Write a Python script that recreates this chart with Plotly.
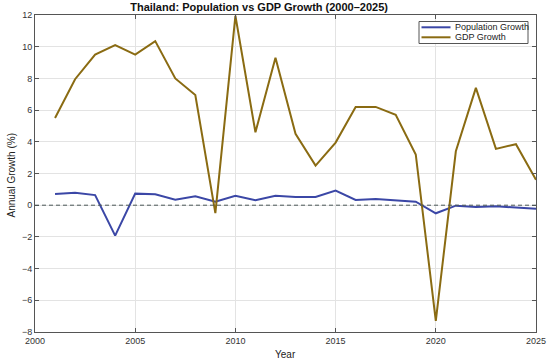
import plotly.graph_objects as go

years = list(range(2001, 2026))
population_growth = [0.71, 0.79, 0.64, -1.92, 0.73, 0.69, 0.35, 0.56, 0.22, 0.60,
                     0.31, 0.60, 0.52, 0.52, 0.92, 0.33, 0.39, 0.32, 0.22, -0.51,
                     -0.03, -0.11, -0.07, -0.15, -0.22]
gdp_growth = [5.5, 7.95, 9.5, 10.1, 9.5, 10.35, 8.0, 6.95, -0.5, 11.95,
              4.6, 9.3, 4.5, 2.5, 3.95, 6.2, 6.2, 5.7, 3.2, -7.3,
              3.4, 7.4, 3.55, 3.85, 1.6]
x_ticks = [2000, 2005, 2010, 2015, 2020, 2025]
y_ticks = list(range(-8, 13, 2))
series_names = ["Population Growth", "GDP Growth"]
series_colors = ["#3b47a6", "#8a6b12"]

font = "Liberation Sans, Arial, sans-serif"

W, H = 550, 363
L, R, T, B = 35, 14, 15, 31
PW, PH = W - L - R, H - T - B


def px(x):
    return (x - L) / PW


def py(y):
    return (H - B - y) / PH


fig = go.Figure()
for name, vals, col in zip(series_names, [population_growth, gdp_growth], series_colors):
    fig.add_trace(go.Scatter(x=years, y=vals, mode="lines", name=name,
                             line=dict(color=col, width=2), showlegend=False))

axis_common = dict(showline=True, linecolor="#555555", linewidth=1, mirror="allticks",
                   ticks="inside", ticklen=4, tickcolor="#555555", automargin=False,
                   showgrid=True, gridcolor="#e3e3e3", gridwidth=1, zeroline=False,
                   tickfont=dict(family=font, size=9, color="#333333"))

shapes = [
    # zero reference line
    dict(type="line", xref="paper", yref="y", x0=0, x1=1, y0=0, y1=0,
         line=dict(color="#4a5858", width=1, dash="4px,3px"), layer="above"),
    # manual legend box (compact, MATLAB-like)
    dict(type="rect", xref="paper", yref="paper",
         x0=px(419), x1=px(528), y0=py(43.5), y1=py(21.5),
         line=dict(color="#555555", width=1), fillcolor="white", layer="above"),
]
annotations = []
for i, (name, col) in enumerate(zip(series_names, series_colors)):
    yy = 27.3 + 10 * i
    shapes.append(dict(type="line", xref="paper", yref="paper",
                       x0=px(421.5), x1=px(450.5), y0=py(yy), y1=py(yy),
                       line=dict(color=col, width=2), layer="above"))
    annotations.append(dict(text=name, xref="paper", yref="paper", x=px(452.5), y=py(yy),
                            xanchor="left", yanchor="middle", showarrow=False,
                            font=dict(family=font, size=9, color="#222222")))

annotations.append(dict(text="Year", xref="paper", yref="paper", x=0.5, y=py(354),
                        xanchor="center", yanchor="middle", showarrow=False,
                        font=dict(family=font, size=10, color="#222222")))
annotations.append(dict(text="Annual Growth (%)", xref="paper", yref="paper",
                        x=px(11), y=py(175.5), textangle=-90,
                        xanchor="center", yanchor="middle", showarrow=False,
                        font=dict(family=font, size=10, color="#222222")))

fig.update_layout(
    width=W, height=H,
    margin=dict(l=L, r=R, t=T, b=B),
    paper_bgcolor="white", plot_bgcolor="white",
    title=dict(text="<b>Thailand: Population vs GDP Growth (2000–2025)</b>",
               x=px(271), xanchor="center", y=1 - 7.5 / H, yanchor="middle",
               font=dict(family=font, size=11, color="#111111")),
    xaxis=dict(range=[2000, 2025], tickvals=x_ticks, **axis_common),
    yaxis=dict(range=[-8, 12], tickvals=y_ticks, **axis_common),
    shapes=shapes,
    annotations=annotations,
    showlegend=False,
)

fig.write_html("out.html", config={"displayModeBar": False},
               post_script="document.body.style.margin='0';")
